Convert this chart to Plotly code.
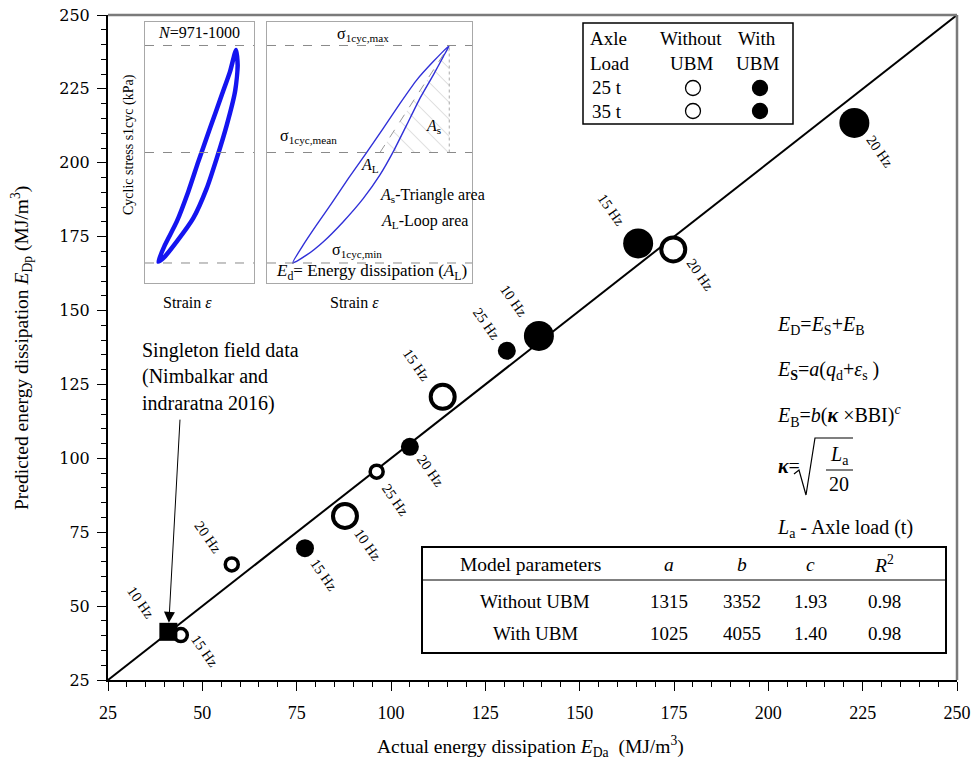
import plotly.graph_objects as go

# ---------------- data ----------------
# Actual (x) vs predicted (y) energy dissipation, MJ/m^3
wo25_x = [44.3, 57.8, 96.2]
wo25_y = [40.2, 64.1, 95.5]
wo25_f = ["15 Hz", "20 Hz", "25 Hz"]

wo35_x = [87.8, 113.7, 174.8]
wo35_y = [80.5, 120.8, 170.7]
wo35_f = ["10 Hz", "15 Hz", "20 Hz"]

w25_x = [77.2, 105.0, 130.7]
w25_y = [69.6, 103.9, 136.4]
w25_f = ["15 Hz", "20 Hz", "25 Hz"]

w35_x = [139.2, 165.5, 222.8]
w35_y = [141.4, 172.7, 213.5]
w35_f = ["10 Hz", "15 Hz", "20 Hz"]

field_x = [41.0]
field_y = [41.3]
field_f = ["10 Hz"]

line_x = [25, 250]
line_y = [25, 250]

axis_ticks = [25, 50, 75, 100, 125, 150, 175, 200, 225, 250]

# model parameter table
table_head = ["Model parameters", "<i>a</i>", "<i>b</i>", "<i>c</i>", "<i>R</i><sup>2</sup>"]
table_rows = ["Without UBM", "With UBM"]
param_a = ["1315", "1025"]
param_b = ["3352", "4055"]
param_c = ["1.93", "1.40"]
param_r2 = ["0.98", "0.98"]

# inset 1: measured hysteresis loops (normalised strain, normalised stress)
loop1_u = [0.122, 0.183, 0.291, 0.397, 0.489, 0.596, 0.704, 0.780, 0.835,
           0.850, 0.826, 0.750, 0.658, 0.566, 0.443, 0.291, 0.168, 0.122]
loop1_v = [0.006, 0.083, 0.190, 0.328, 0.466, 0.619, 0.772, 0.880, 0.979,
           0.910, 0.788, 0.634, 0.481, 0.343, 0.206, 0.098, 0.022, 0.006]

# inset 2: idealised loop
loop2_u = [0.125, 0.177, 0.242, 0.315, 0.397, 0.478, 0.567, 0.649, 0.730, 0.811, 0.889,
           0.860, 0.811, 0.746, 0.681, 0.616, 0.551, 0.470, 0.372, 0.275, 0.194, 0.125]
loop2_v = [0.000, 0.083, 0.175, 0.274, 0.389, 0.497, 0.619, 0.734, 0.841, 0.926, 1.000,
           0.949, 0.864, 0.757, 0.634, 0.512, 0.405, 0.297, 0.190, 0.098, 0.037, 0.000]
tri_u = [0.551, 0.889, 0.889, 0.551]
tri_v = [0.508, 0.508, 1.000, 0.508]
stress_levels = [0.0, 0.508, 1.0]

# ---------------- layout helpers ----------------
W, H = 971, 768
L, R, T, B = 108, 957, 15, 680
FONT = "Liberation Serif"


def P(xp, yp):
    """pixel position -> paper coordinates"""
    return (xp - L) / (R - L), (B - yp) / (B - T)


fig = go.Figure()

# 1:1 line
fig.add_trace(go.Scatter(x=line_x, y=line_y, mode="lines",
                         line=dict(color="black", width=2), hoverinfo="skip"))

open_small = dict(symbol="circle", size=13, color="white", line=dict(color="black", width=3.5))
open_large = dict(symbol="circle", size=24, color="white", line=dict(color="black", width=4))
fill_small = dict(symbol="circle", size=18, color="black", line=dict(width=0))
fill_large = dict(symbol="circle", size=30, color="black", line=dict(width=0))
square = dict(symbol="square", size=18, color="black", line=dict(width=0))

series = [
    (wo25_x, wo25_y, wo25_f, open_small, [(24, -16), (-24, 27), (19, -28)]),
    (wo35_x, wo35_y, wo35_f, open_large, [(23, -29), (-26, 32), (27, -26)]),
    (w25_x, w25_y, w25_f, fill_small, [(19, -27), (21, -24), (-20, 27)]),
    (w35_x, w35_y, w35_f, fill_large, [(-25, 35), (-27, 33), (26, -29)]),
    (field_x, field_y, field_f, square, [(-27, 29)]),
]

annotations = []
for xs, ys, fs, mk, offs in series:
    fig.add_trace(go.Scatter(x=xs, y=ys, mode="markers", marker=mk, hoverinfo="skip"))
    for xv, yv, f, (dx, dy) in zip(xs, ys, fs, offs):
        annotations.append(dict(x=xv, y=yv, xref="x", yref="y", text=f, showarrow=False,
                                xshift=dx, yshift=dy, textangle=55,
                                font=dict(family=FONT, size=14.5, color="black")))

# arrow to field data
annotations.append(dict(x=field_x[0], y=field_y[0], xref="x", yref="y",
                        ax=44.1, ay=113.6, axref="x", ayref="y", text="",
                        showarrow=True, arrowhead=2, arrowsize=2.2, arrowwidth=1,
                        arrowcolor="black", standoff=9))

# ---------------- insets ----------------
fig.add_trace(go.Scatter(x=loop1_u, y=loop1_v, xaxis="x2", yaxis="y2", mode="lines",
                         line=dict(color="#1414f0", width=4.5, shape="spline", smoothing=0.6),
                         hoverinfo="skip"))
fig.add_trace(go.Scatter(x=tri_u, y=tri_v, xaxis="x3", yaxis="y3", mode="lines",
                         fill="toself", fillcolor="rgba(0,0,0,0)",
                         fillpattern=dict(shape="\\", fgcolor="#a0a0a0", size=12, solidity=0.08),
                         line=dict(width=0), hoverinfo="skip"))
fig.add_trace(go.Scatter(x=tri_u[:2], y=[tri_v[0], tri_v[2]], xaxis="x3", yaxis="y3",
                         mode="lines", line=dict(color="#999", width=1, dash="dash"),
                         hoverinfo="skip"))
fig.add_trace(go.Scatter(x=tri_u[1:3], y=tri_v[1:3], xaxis="x3", yaxis="y3",
                         mode="lines", line=dict(color="#aaa", width=1, dash="dot"),
                         hoverinfo="skip"))
fig.add_trace(go.Scatter(x=loop2_u, y=loop2_v, xaxis="x3", yaxis="y3", mode="lines",
                         line=dict(color="#3030d8", width=1.4, shape="spline", smoothing=0.5),
                         hoverinfo="skip"))

shapes = []
for ax_ in ("2", "3"):
    for v in stress_levels:
        shapes.append(dict(type="line", xref=f"x{ax_} domain", yref=f"y{ax_}",
                           x0=0, x1=1, y0=v, y1=v,
                           line=dict(color="#8a8a8a", width=1, dash="dash")))

# frame top/right
shapes.append(dict(type="line", xref="paper", yref="paper", x0=0, x1=1, y0=1, y1=1,
                   line=dict(color="#7a7a7a", width=2.5)))
shapes.append(dict(type="line", xref="paper", yref="paper", x0=1, x1=1, y0=0, y1=1,
                   line=dict(color="#7a7a7a", width=2.5)))

# legend box
lx0, ly0 = P(583, 124)
lx1, ly1 = P(793, 23)
shapes.append(dict(type="rect", xref="paper", yref="paper", x0=lx0, x1=lx1, y0=ly0, y1=ly1,
                   line=dict(color="black", width=1.5)))
for (cx, cy, filled) in [(693, 88, False), (693, 111, False), (760, 88, True), (760, 111, True)]:
    px_, py_ = P(cx, cy)
    shapes.append(dict(type="circle", xref="paper", yref="paper", xsizemode="pixel",
                       ysizemode="pixel", xanchor=px_, yanchor=py_, x0=-7.5, x1=7.5, y0=-7.5, y1=7.5,
                       fillcolor="black" if filled else "white",
                       line=dict(color="black", width=1.3)))

# table box
tx0, ty0 = P(422, 653)
tx1, ty1 = P(946, 547)
shapes.append(dict(type="rect", xref="paper", yref="paper", x0=tx0, x1=tx1, y0=ty0, y1=ty1,
                   line=dict(color="black", width=2), fillcolor="white", layer="below"))
_, sy = P(0, 580)
shapes.append(dict(type="line", xref="paper", yref="paper", x0=tx0, x1=tx1, y0=sy, y1=sy,
                   line=dict(color="black", width=1)))

# radical sign for kappa
pts = [P(794, 474), P(799, 470), P(806, 495), P(815, 438), P(853, 438)]
path = "M " + " L ".join(f"{a:.5f},{b:.5f}" for a, b in pts)
shapes.append(dict(type="path", xref="paper", yref="paper", path=path,
                   line=dict(color="black", width=1.2)))
fa, fb = P(826, 470), P(853, 470)
shapes.append(dict(type="line", xref="paper", yref="paper", x0=fa[0], x1=fb[0], y0=fa[1], y1=fb[1],
                   line=dict(color="black", width=1)))


def text(xp, yp, s, size=19.5, anchor="center", angle=0, family=FONT):
    px_, py_ = P(xp, yp)
    annotations.append(dict(x=px_, y=py_, xref="paper", yref="paper", text=s, showarrow=False,
                            xanchor=anchor, yanchor="middle", textangle=angle,
                            font=dict(family=family, size=size, color="black")))


# axis titles
text(530, 746, "Actual energy dissipation <i>E</i><sub>Da</sub>  (MJ/m<sup>3</sup>)", 19.5)
text(22, 348, "Predicted energy dissipation <i>E</i><sub>Dp</sub> (MJ/m<sup>3</sup>)", 19.5, angle=-90)

# inset 1 texts
text(199, 32, "<i>N</i>=971-1000", 16)
text(129, 145, "Cyclic stress s1cyc (kPa)", 14, angle=-90)
text(187, 302, "Strain <i>ε</i>", 16)
# inset 2 texts
text(363, 34, "σ<sub>1cyc,max</sub>", 16)
text(308, 136, "σ<sub>1cyc,mean</sub>", 16)
text(433, 127, "<i>A</i><sub>s</sub>", 16)
text(370, 166, "<i>A</i><sub>L</sub>", 16)
text(378, 195, "<i>A</i><sub>s</sub>-Triangle area", 16, anchor="left")
text(379, 221, "<i>A</i><sub>L</sub>-Loop area", 16, anchor="left")
text(357, 250, "σ<sub>1cyc,min</sub>", 16)
text(371, 272, "<i>E</i><sub>d</sub>= Energy dissipation (<i>A</i><sub>L</sub>)", 17)
text(354, 302, "Strain <i>ε</i>", 16)

# legend texts
text(588, 39, "Axle", 19, anchor="left")
text(588, 63, "Load", 19, anchor="left")
text(590, 88, "25 t", 19, anchor="left")
text(590, 111, "35 t", 19, anchor="left")
text(691, 39, "Without", 19)
text(691, 63, "UBM", 19)
text(757, 39, "With", 19)
text(757, 63, "UBM", 19)

# field data note
text(140, 350, "Singleton field data", 20, anchor="left")
text(140, 376, "(Nimbalkar and", 20, anchor="left")
text(140, 403, "indraratna 2016)", 20, anchor="left")

# formulas
text(775, 325, "<i>E</i><sub>D</sub>=<i>E</i><sub>S</sub>+<i>E</i><sub>B</sub>", 20, anchor="left")
text(775, 370, "<i>E</i><sub><b>S</b></sub>=<i>a</i>(<i>q</i><sub>d</sub>+<i>ε</i><sub>s</sub> )", 20, anchor="left")
text(775, 416, "<i>E</i><sub>B</sub>=<i>b</i>(<b><i>κ</i></b> ×BBI)<sup><i>c</i></sup>", 20, anchor="left")
text(776, 466, "<b><i>κ</i></b>=", 20, anchor="left")
text(839, 455, "<i>L</i><sub>a</sub>", 20)
text(839, 484, "20", 20)
text(775, 528, "<i>L</i><sub>a</sub> - Axle load (t)", 20, anchor="left")

# table texts
col_x = [530, 669, 742, 810, 884]
for cx, h in zip(col_x, table_head):
    text(cx, 564, h, 19.5)
for ry, name, a, b, c, r2 in zip([601, 633], table_rows, param_a, param_b, param_c, param_r2):
    for cx, s in zip(col_x, [name, a, b, c, r2]):
        text(cx + (5 if s == name else 0), ry, s, 19)

common = dict(range=[25, 250], tickvals=axis_ticks, ticks="outside", ticklen=9, tickwidth=1.3,
              tickcolor="black", showline=True, linecolor="black", linewidth=2,
              showgrid=False, zeroline=False, automargin=False,
              minor=dict(dtick=5, ticks="outside", ticklen=5, tickwidth=1, tickcolor="black"))

inset_x = dict(range=[0, 1], showline=True, mirror=True, linecolor="#a8a8a8", linewidth=1,
               showticklabels=False, ticks="", showgrid=False, zeroline=False, fixedrange=True,
               automargin=False)
inset_y = dict(range=[-0.092, 1.108], showline=True, mirror=True, linecolor="#a8a8a8",
               linewidth=1, showticklabels=False, ticks="", showgrid=False, zeroline=False,
               fixedrange=True, automargin=False)

d1x = [P(145, 0)[0], P(254, 0)[0]]
d2x = [P(267, 0)[0], P(472, 0)[0]]
dy = [P(0, 283)[1], P(0, 22)[1]]

fig.update_layout(
    width=W, height=H, autosize=False,
    margin=dict(l=L, r=W - R, t=T, b=H - B, autoexpand=False),
    paper_bgcolor="white", plot_bgcolor="white",
    showlegend=False,
    font=dict(family=FONT, size=16, color="black"),
    xaxis=dict(**common, domain=[0, 1],
               tickfont=dict(family=FONT, size=18, color="black"), ticklabelstandoff=6),
    yaxis=dict(**common, domain=[0, 1],
               tickfont=dict(family="DejaVu Serif", size=16, color="black"), ticklabelstandoff=4),
    xaxis2=dict(**inset_x, domain=d1x, anchor="y2"),
    yaxis2=dict(**inset_y, domain=dy, anchor="x2"),
    xaxis3=dict(**inset_x, domain=d2x, anchor="y3"),
    yaxis3=dict(**inset_y, domain=dy, anchor="x3"),
    shapes=shapes,
    annotations=annotations,
)

fig.write_html("out.html")
